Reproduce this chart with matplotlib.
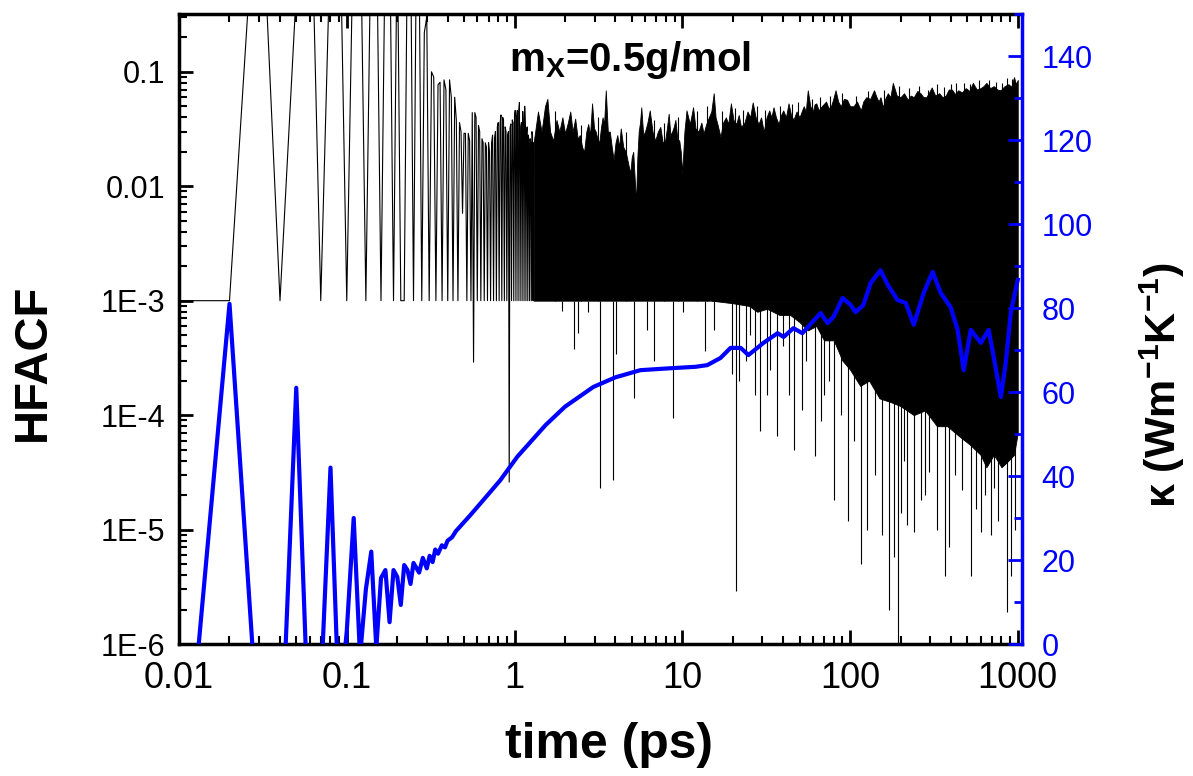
import numpy as np
import matplotlib.pyplot as plt
from matplotlib.ticker import LogLocator, NullFormatter, MultipleLocator

# HFACF sampled every 0.01 ps up to 1.3 ps (troughs sit on the 1E-3 floor)
hfacf_early = [
    1e-3, 1e-3, 12, 1e-3, 0.5, 15, 1e-3, 1.5, 6, 1e-3,
    2.7, 3.8, 1e-3, 2.5, 3, 1e-3, 2, 2.5, 1e-3, 2,
    1e-3, 1e-3, 1.5, 1.8, 1e-3, 1.2, 1.0, 1e-3, 0.22, 0.3,
    1e-3, 0.1, 0.09, 1e-3, 0.077, 0.081, 1e-3, 0.085, 0.07, 1e-3,
    0.085, 0.06, 1e-3, 0.06, 0.038, 1e-3, 0.036, 0.03, 0.0058, 0.029,
    0.029, 1e-3, 0.029, 0.025, 1e-3, 0.044, 2.9e-4, 0.044, 0.04, 1e-3,
    0.034, 0.03, 1e-3, 0.026, 0.024, 1e-3, 0.024, 0.022, 1e-3, 0.024,
    0.02, 1e-3, 0.024, 0.028, 1e-3, 0.026, 0.03, 1e-3, 0.033, 0.036,
    1e-3, 0.035, 0.042, 1e-3, 0.04, 0.038, 1e-3, 0.033, 0.03, 1e-3,
    0.028, 0.03, 2.6e-5, 0.032, 0.035, 1e-3, 0.038, 0.036, 1e-3, 0.04,
    0.046, 1e-3, 0.04, 0.046, 1e-3, 0.045, 0.054, 1e-3, 0.033, 0.036,
    1e-3, 0.045, 0.033, 1e-3, 0.05, 0.033, 1e-3, 0.03, 0.033, 1e-3,
    0.028, 0.024, 1e-3, 0.026, 0.024, 1e-3, 0.03, 0.028, 1e-3, 0.024,
]

# upper edge of the dense black band (time ps, HFACF)
hfacf_top = [
    (1.30, 0.024), (1.38, 0.045), (1.45, 0.03), (1.52, 0.05), (1.57, 0.058),
    (1.63, 0.03), (1.70, 0.025), (1.78, 0.038), (1.85, 0.03), (1.93, 0.04),
    (2.00, 0.029), (2.08, 0.036), (2.15, 0.045), (2.22, 0.03), (2.30, 0.039),
    (2.38, 0.026), (2.45, 0.028), (2.53, 0.022), (2.60, 0.02), (2.68, 0.03),
    (2.75, 0.035), (2.82, 0.028), (2.90, 0.053), (2.98, 0.032), (3.05, 0.03),
    (3.12, 0.026), (3.20, 0.024), (3.28, 0.033), (3.35, 0.04), (3.42, 0.035),
    (3.50, 0.069), (3.60, 0.03), (3.70, 0.03), (3.80, 0.022), (3.90, 0.017),
    (4.00, 0.024), (4.10, 0.028), (4.20, 0.022), (4.30, 0.032), (4.45, 0.022),
    (4.60, 0.02), (4.75, 0.016), (4.90, 0.013), (5.00, 0.018), (5.10, 0.02),
    (5.20, 0.012), (5.30, 0.0072), (5.40, 0.018), (5.50, 0.03), (5.60, 0.036),
    (5.70, 0.049), (5.85, 0.028), (6.00, 0.03), (6.20, 0.036), (6.40, 0.046),
    (6.65, 0.03), (6.90, 0.025), (7.15, 0.03), (7.40, 0.033), (7.65, 0.024),
    (7.90, 0.025), (8.10, 0.032), (8.30, 0.043), (8.50, 0.028), (8.70, 0.03),
    (8.90, 0.033), (9.10, 0.038), (9.35, 0.026), (9.60, 0.025), (9.80, 0.02),
    (10.0, 0.013), (10.3, 0.03), (10.6, 0.046), (11.1, 0.035), (11.6, 0.049),
    (12.0, 0.032), (12.5, 0.03), (13.0, 0.036), (13.4, 0.029), (13.9, 0.035),
    (14.4, 0.04), (14.9, 0.045), (15.4, 0.065), (15.8, 0.04), (16.2, 0.035),
    (16.9, 0.027), (17.5, 0.036), (18.2, 0.04), (18.8, 0.035), (19.5, 0.053),
    (20.2, 0.038), (21.0, 0.035), (21.7, 0.042), (22.4, 0.033), (23.5, 0.036),
    (24.5, 0.045), (25.4, 0.04), (26.3, 0.054), (27.4, 0.04), (28.5, 0.035),
    (29.5, 0.04), (30.6, 0.03), (31.8, 0.04), (33.0, 0.046), (34.0, 0.04),
    (35.0, 0.049), (36.2, 0.04), (37.5, 0.035), (38.8, 0.042), (40.0, 0.046),
    (41.5, 0.04), (43.0, 0.053), (44.5, 0.042), (46.0, 0.038), (48.0, 0.045),
    (50.0, 0.04), (51.5, 0.045), (53.0, 0.05), (54.5, 0.045), (56.0, 0.069),
    (58.0, 0.05), (60.0, 0.045), (61.5, 0.052), (63.0, 0.053), (65.0, 0.046),
    (67.0, 0.049), (69.5, 0.052), (72.0, 0.055), (74.5, 0.048), (77.0, 0.05),
    (79.5, 0.058), (82.0, 0.069), (85.0, 0.055), (88.0, 0.05), (92.0, 0.058),
    (96.0, 0.057), (100, 0.05), (105, 0.05), (110, 0.055), (116, 0.046),
    (120, 0.055), (125, 0.06), (132, 0.058), (139, 0.069), (144, 0.06),
    (148, 0.055), (152, 0.06), (157, 0.049), (162, 0.058), (168, 0.065),
    (174, 0.06), (180, 0.08), (190, 0.062), (200, 0.06), (210, 0.065),
    (221, 0.057), (230, 0.062), (240, 0.06), (252, 0.068), (263, 0.065),
    (274, 0.06), (285, 0.06), (296, 0.066), (307, 0.073), (322, 0.062),
    (340, 0.065), (356, 0.06), (372, 0.062), (388, 0.07), (405, 0.07),
    (422, 0.064), (442, 0.069), (465, 0.066), (490, 0.072), (515, 0.068),
    (540, 0.08), (570, 0.07), (600, 0.072), (625, 0.075), (650, 0.08),
    (685, 0.072), (720, 0.075), (755, 0.07), (790, 0.069), (835, 0.075),
    (880, 0.078), (915, 0.074), (950, 0.09), (975, 0.078), (1000, 0.085),
]

# thin spikes poking above the band (time ps, HFACF)
up_t = [1.75, 2.5, 3.15, 4.6, 6.8, 7.8, 9.4, 12.2, 14.0, 17.2,
        20.6, 23.0, 28.0, 31.2, 38.0, 45.0, 49.0, 59.0, 66.0, 76.0,
        90.0, 108, 128, 160, 195, 225, 258, 290, 330, 365,
        400, 430, 480, 520, 590, 670, 740, 810, 860, 930]
up_v = [0.045, 0.034, 0.04, 0.03, 0.038, 0.036, 0.04, 0.045, 0.05, 0.045,
        0.048, 0.046, 0.05, 0.046, 0.05, 0.052, 0.055, 0.058, 0.06, 0.062,
        0.065, 0.062, 0.068, 0.07, 0.075, 0.072, 0.075, 0.07, 0.078, 0.074,
        0.078, 0.08, 0.08, 0.078, 0.085, 0.085, 0.082, 0.08, 0.088, 0.086]

# lower edge of the solid black mass below 1E-3 at long times
hfacf_low = [
    (15, 1e-3), (20, 9.5e-4), (25, 9e-4), (28, 8e-4), (32, 8.5e-4),
    (38, 7.5e-4), (44, 7.5e-4), (50, 6.5e-4), (56, 5.5e-4), (63, 6e-4),
    (70, 4.5e-4), (80, 4.5e-4), (90, 3e-4), (100, 2.5e-4), (115, 1.8e-4),
    (130, 2e-4), (150, 1.4e-4), (175, 1.3e-4), (200, 1.2e-4), (240, 1e-4),
    (280, 1.1e-4), (330, 8e-5), (380, 8e-5), (450, 6.5e-5), (520, 5.5e-5),
    (600, 4.5e-5), (650, 3.5e-5), (720, 4.5e-5), (800, 3.5e-5), (880, 4e-5),
    (950, 4.5e-5), (1000, 7e-5),
]

# single downward excursions below 1E-3 (time ps, lowest HFACF)
spike_t = [1.92, 2.27, 2.39, 2.76, 3.22, 3.85, 4.05, 5.14, 6.17, 6.76,
           8.83, 10.1, 13.6, 15.4, 19.9, 21.0, 21.7, 24.0, 25.5, 27.3,
           29.0, 32.0, 33.5, 36.8, 40.0, 43.0, 46.3, 51.9, 55.0, 61.5,
           66.8, 70.0, 75.0, 80.2, 88.0, 97.2, 105, 116, 127, 140,
           156, 171, 183, 194, 200, 210, 220, 240, 266, 280,
           296, 332, 368, 389, 420, 468, 529, 560, 601, 640,
           690, 722, 760, 820, 868, 916, 960]
spike_v = [8.2e-4, 3.8e-4, 5.2e-4, 8e-4, 2.3e-5, 2.7e-5, 3.4e-4, 1.4e-4, 5.5e-4, 3e-4,
           9.4e-5, 8e-4, 3.6e-4, 5.5e-4, 2.3e-4, 2.9e-6, 2e-4, 3e-4, 5e-4, 1.5e-4,
           7.2e-5, 1.5e-4, 2.5e-4, 6.6e-5, 4e-4, 1.5e-4, 5e-5, 1.1e-4, 3e-4, 4.4e-5,
           8.9e-5, 1.5e-4, 2e-4, 1.8e-5, 1e-4, 1.2e-5, 6e-5, 5e-6, 1e-5, 3e-5,
           9e-6, 2e-6, 5.8e-6, 9e-7, 1.4e-5, 4e-5, 1.1e-5, 9.6e-6, 1.8e-5, 2e-5,
           3.2e-5, 1e-5, 3.9e-6, 7e-6, 3e-5, 2.2e-5, 3.9e-6, 1.5e-5, 9.6e-6, 2e-5,
           9e-6, 2.3e-5, 1.2e-5, 4e-5, 1.9e-6, 3.9e-6, 1e-5]

# thermal conductivity, every 0.01 ps up to 0.25 ps
kappa_early = [-52, 81, -24, -33, 61, -26, -11, 42, -16, 3,
               30, -3, 13, 22, -1, 15.7, 17.6, 5.2, 17.6, 16,
               9.3, 18.8, 17.6, 14.3, 19.3]

# thermal conductivity after 0.25 ps (time ps, W/mK)
kappa_late = [
    (0.27, 17), (0.284, 20.5), (0.30, 18), (0.312, 21), (0.325, 19.5),
    (0.337, 22.5), (0.35, 21.5), (0.369, 23.5), (0.385, 23), (0.399, 24.6),
    (0.424, 25.4), (0.448, 26.9), (0.546, 30.7), (0.71, 36), (0.823, 39),
    (1.04, 44.6), (1.53, 52.1), (2.0, 56.5), (2.95, 61.2), (4.0, 63.5),
    (5.63, 65.2), (8.86, 65.7), (12, 66), (14.1, 66.4), (16.9, 68.1),
    (19.4, 70.5), (22.3, 70.5), (24.8, 68.8), (30.5, 71.7), (37, 74),
    (40.2, 73.1), (46, 75.2), (52, 74), (59.8, 76.7), (66.8, 78.8),
    (73.5, 76.4), (79.8, 77.9), (90.3, 82.4), (101, 80.7), (108, 79),
    (120, 80.7), (133, 86), (152, 89), (168, 85.5), (192, 81.9),
    (215, 81.2), (240, 76), (275, 83.6), (311, 88.6), (347, 83.6),
    (398, 80.2), (438, 74.8), (476, 65.2), (525, 74.8), (602, 71.7),
    (671, 74.8), (719, 68.3), (793, 58.8), (848, 66.9), (908, 78.8),
    (1000, 86.7),
]

x_ticks = [0.01, 0.1, 1, 10, 100, 1000]
x_labels = ['0.01', '0.1', '1', '10', '100', '1000']
y_ticks = [1e-6, 1e-5, 1e-4, 1e-3, 1e-2, 1e-1]
y_labels = ['1E-6', '1E-5', '1E-4', '1E-3', '0.01', '0.1']
k_ticks = [0, 20, 40, 60, 80, 100, 120, 140]

plt.rcParams['font.family'] = 'Liberation Sans'
plt.rcParams['mathtext.fontset'] = 'custom'
plt.rcParams['mathtext.rm'] = 'Liberation Sans'
plt.rcParams['mathtext.bf'] = 'Liberation Sans:bold'
plt.rcParams['mathtext.it'] = 'Liberation Sans:italic'

W, H = 1193, 776
fig = plt.figure(figsize=(W / 100, H / 100), dpi=100)
ax = fig.add_axes([179 / W, 1 - 644 / H, (1022 - 179) / W, (644 - 14) / H])

t_early = np.arange(1, len(hfacf_early) + 1) * 0.01
ax.plot(t_early, hfacf_early, color='black', lw=0.8)
top_t, top_v = zip(*hfacf_top)
ax.fill_between(top_t, 1e-3, top_v, color='black', lw=0.6)
low_t, low_v = zip(*hfacf_low)
ax.fill_between(low_t, low_v, 1e-3, color='black', lw=0.6)
ax.vlines(spike_t, spike_v, 1e-3, color='black', lw=0.8)
ax.vlines(up_t, 1e-3, up_v, color='black', lw=0.8)

ax.set_xscale('log')
ax.set_yscale('log')
ax.set_xlim(0.01, 1060)
ax.set_ylim(1e-6, 0.32)
ax.set_xticks(x_ticks)
ax.set_xticklabels(x_labels)
ax.set_yticks(y_ticks)
ax.set_yticklabels(y_labels)
ax.xaxis.set_minor_locator(LogLocator(base=10, subs=np.arange(2, 10), numticks=20))
ax.yaxis.set_minor_locator(LogLocator(base=10, subs=np.arange(2, 10), numticks=20))
ax.xaxis.set_minor_formatter(NullFormatter())
ax.yaxis.set_minor_formatter(NullFormatter())
ax.tick_params(which='both', direction='in', top=True, right=False, width=2)
ax.tick_params(which='major', length=10)
ax.tick_params(which='minor', length=6, width=1.5)
ax.tick_params(axis='x', labelsize=26, pad=12)
ax.tick_params(axis='y', labelsize=22, pad=10)
for s in ['left', 'top', 'bottom']:
    ax.spines[s].set_linewidth(2.5)
ax.spines['right'].set_visible(False)

ax2 = ax.twinx()
k_t = list(np.arange(1, len(kappa_early) + 1) * 0.01) + [p[0] for p in kappa_late]
k_v = kappa_early + [p[1] for p in kappa_late]
ax2.plot(k_t, k_v, color='blue', lw=3)
ax2.set_ylim(0, 150)
ax2.set_yticks(k_ticks)
ax2.yaxis.set_minor_locator(MultipleLocator(10))
ax2.tick_params(axis='y', which='both', direction='in', colors='blue',
                labelsize=22, width=2, pad=14)
ax2.tick_params(axis='y', which='major', length=10)
ax2.tick_params(axis='y', which='minor', length=6)
for s in ['left', 'top', 'bottom']:
    ax2.spines[s].set_visible(False)
ax2.spines['right'].set_color('blue')
ax2.spines['right'].set_linewidth(2.5)

fig.text(33 / W, 1 - 362 / H, 'HFACF', rotation=90, fontsize=34,
         fontweight='bold', ha='center', va='center')
fig.text(609 / W, 1 - 758 / H, 'time (ps)', fontsize=36, fontweight='bold',
         ha='center', va='baseline')
fig.text(1162 / W, 1 - 385 / H, r'$\mathbf{\kappa\ (Wm^{-1}K^{-1})}$',
         rotation=90, fontsize=31, ha='center', va='center')
fig.text(630 / W, 1 - 71 / H, r'm$_\mathbf{X}$=0.5g/mol', fontsize=29,
         fontweight='bold', ha='center', va='baseline')

fig.savefig('out.png', dpi=100)
